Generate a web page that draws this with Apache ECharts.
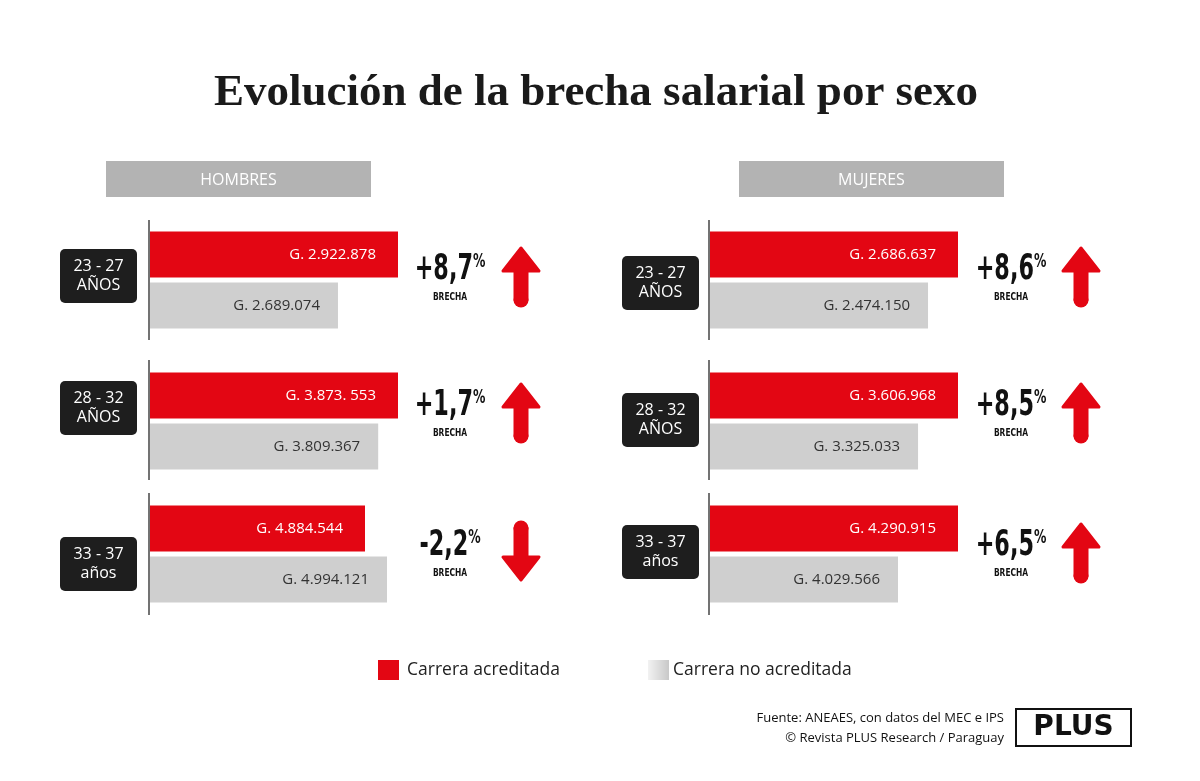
<!DOCTYPE html>
<html><head><meta charset="utf-8">
<script src="https://cdn.jsdelivr.net/npm/echarts@6/dist/echarts.min.js"></script>
<style>html,body{margin:0;background:#fff}#c{width:1200px;height:781px}</style></head>
<body><div id="c"></div>
<script>
const ageGroups = ['23 - 27\nAÑOS','28 - 32\nAÑOS','33 - 37\naños'];
const menAccredited = [2922878, 3873553, 4884544];
const menNonAccredited = [2689074, 3809367, 4994121];
const womenAccredited = [2686637, 3606968, 4290915];
const womenNonAccredited = [2474150, 3325033, 4029566];
const menGap = ['+8,7', '+1,7', '-2,2'];
const womenGap = ['+8,6', '+8,5', '+6,5'];
const menLabels = ['G. 2.922.878', 'G. 3.873. 553', 'G. 4.884.544'];
const menLabels2 = ['G. 2.689.074', 'G. 3.809.367', 'G. 4.994.121'];
const womenLabels = ['G. 2.686.637', 'G. 3.606.968', 'G. 4.290.915'];
const womenLabels2 = ['G. 2.474.150', 'G. 3.325.033', 'G. 4.029.566'];
// axis ranges (baseline is not zero in the original graphic)
const menMin = [1957000, 3070000, 3813000], menMax = [2922878, 3873553, 5049000];
const womenMin = [928000, 1857000, 3211000], womenMax = [2686637, 3606968, 4290915];

const RED = '#e30613', GRAY = '#cfcfcf';
const tops = [229, 370, 503];
const grids = [], xAxes = [], yAxes = [], series = [], g = [];
function addPanel(left, acc, non, lab1, lab2, mins, maxs) {
  for (let i = 0; i < 3; i++) {
    const k = grids.length;
    grids.push({left: left, top: tops[i], width: 248, height: 102});
    xAxes.push({gridIndex: k, type: 'value', min: mins[i], max: maxs[i], show: false});
    yAxes.push({gridIndex: k, type: 'category', inverse: true, data: ['a', 'b'], show: false});
    series.push({type: 'bar', xAxisIndex: k, yAxisIndex: k, barWidth: 46, silent: true,
      data: [
        {value: acc[i], itemStyle: {color: RED}, label: {show: true, position: 'insideRight', distance: 22, formatter: lab1[i], color: '#fff', fontSize: 15, fontFamily: 'Open Sans'}},
        {value: non[i], itemStyle: {color: GRAY}, label: {show: true, position: 'insideRight', distance: 18, formatter: lab2[i], color: '#333', fontSize: 15, fontFamily: 'Open Sans'}}
      ]});
  }
}
addPanel(150, menAccredited, menNonAccredited, menLabels, menLabels2, menMin, menMax);
addPanel(710, womenAccredited, womenNonAccredited, womenLabels, womenLabels2, womenMin, womenMax);

function arrow(cx, cy, up) {
  const s = up ? 1 : -1, h = 28;
  const pts = [[cx, cy - s*h], [cx + 18, cy - s*(h-23)], [cx + 6, cy - s*(h-23)], [cx + 6, cy + s*(h-4)], [cx - 6, cy + s*(h-4)], [cx - 6, cy - s*(h-23)], [cx - 18, cy - s*(h-23)]];
  return [
    {type: 'polygon', shape: {points: pts}, style: {fill: RED, stroke: RED, lineWidth: 3, lineJoin: 'round'}},
    {type: 'circle', shape: {cx: cx, cy: cy + s*(h-4), r: 7.5}, style: {fill: RED}}
  ];
}
function panelGraphics(axX, boxX, boxYs, gaps, gapX, arrowX) {
  const lineRanges = [[220, 340], [360, 480], [493, 615]];
  for (let i = 0; i < 3; i++) {
    g.push({type: 'line', shape: {x1: axX, y1: lineRanges[i][0], x2: axX, y2: lineRanges[i][1]}, style: {stroke: '#444', lineWidth: 1.5}});
    g.push({type: 'rect', shape: {x: boxX, y: boxYs[i], width: 77, height: 54, r: 5}, style: {fill: '#1e1e1e'}});
    g.push({type: 'text', x: boxX + 38.5, y: boxYs[i] + 27, style: {text: ageGroups[i], fill: '#fff', font: '16px "Open Sans"', align: 'center', verticalAlign: 'middle', lineHeight: 19}});
    const cy = [279, 415, 555][i];
    g.push({type: 'text', x: gapX, y: cy - 9, scaleX: 0.62, style: {text: '{b|' + gaps[i] + '}{p|%}', align: 'center', verticalAlign: 'middle', rich: {b: {font: 'bold 36px "DejaVu Sans"', fill: '#111'}, p: {font: 'bold 20px "DejaVu Sans"', fill: '#111', verticalAlign: 'top', padding: [0, 0, 16, 0]}}}});
    g.push({type: 'text', x: gapX, y: cy + 18, scaleX: 0.75, style: {text: 'BRECHA', fill: '#111', font: 'bold 10px "DejaVu Sans"', align: 'center', verticalAlign: 'middle'}});
    g.push(...arrow(arrowX, cy - 3, gaps[i][0] !== '-'));
  }
}
panelGraphics(149, 60, [249, 381, 537], menGap, 450, 521);
panelGraphics(709, 622, [256, 393, 525], womenGap, 1011, 1081);

g.push({type: 'text', x: 596, y: 93, style: {text: 'Evolución de la brecha salarial por sexo', font: 'bold 45px "Liberation Serif"', fill: '#1a1a1a', align: 'center', verticalAlign: 'middle'}});
[[106, 'HOMBRES'], [739, 'MUJERES']].forEach(([x, t]) => {
  g.push({type: 'rect', shape: {x: x, y: 161, width: 265, height: 36}, style: {fill: '#b3b3b3'}});
  g.push({type: 'text', x: x + 132.5, y: 180, style: {text: t, fill: '#fff', font: '16px "Open Sans"', align: 'center', verticalAlign: 'middle'}});
});
g.push({type: 'rect', shape: {x: 378, y: 660, width: 21, height: 20}, style: {fill: RED}});
g.push({type: 'text', x: 407, y: 670, style: {text: 'Carrera acreditada', fill: '#222', font: '17.5px "Open Sans"', verticalAlign: 'middle'}});
g.push({type: 'rect', shape: {x: 648, y: 660, width: 21, height: 20}, style: {fill: new echarts.graphic.LinearGradient(0, 0, 1, 0, [{offset: 0, color: '#f2f2f2'}, {offset: 1, color: '#c8c8c8'}])}});
g.push({type: 'text', x: 673, y: 670, style: {text: 'Carrera no acreditada', fill: '#222', font: '17.5px "Open Sans"', verticalAlign: 'middle'}});
g.push({type: 'text', x: 1004, y: 718, style: {text: 'Fuente: ANEAES, con datos del MEC e IPS', fill: '#111', font: '13px "Open Sans"', align: 'right', verticalAlign: 'middle'}});
g.push({type: 'text', x: 1004, y: 738, style: {text: '© Revista PLUS Research / Paraguay', fill: '#111', font: '13px "Open Sans"', align: 'right', verticalAlign: 'middle'}});
g.push({type: 'rect', shape: {x: 1016, y: 709, width: 115, height: 37}, style: {fill: '#fff', stroke: '#111', lineWidth: 2}});
g.push({type: 'text', x: 1073.5, y: 728, style: {text: 'PLUS', fill: '#111', font: 'bold 28px "DejaVu Sans"', align: 'center', verticalAlign: 'middle', letterSpacing: 1}});

const chart = echarts.init(document.getElementById('c'));
chart.setOption({animation: false, backgroundColor: '#fff', grid: grids, xAxis: xAxes, yAxis: yAxes, series: series, graphic: g});
</script></body></html>
